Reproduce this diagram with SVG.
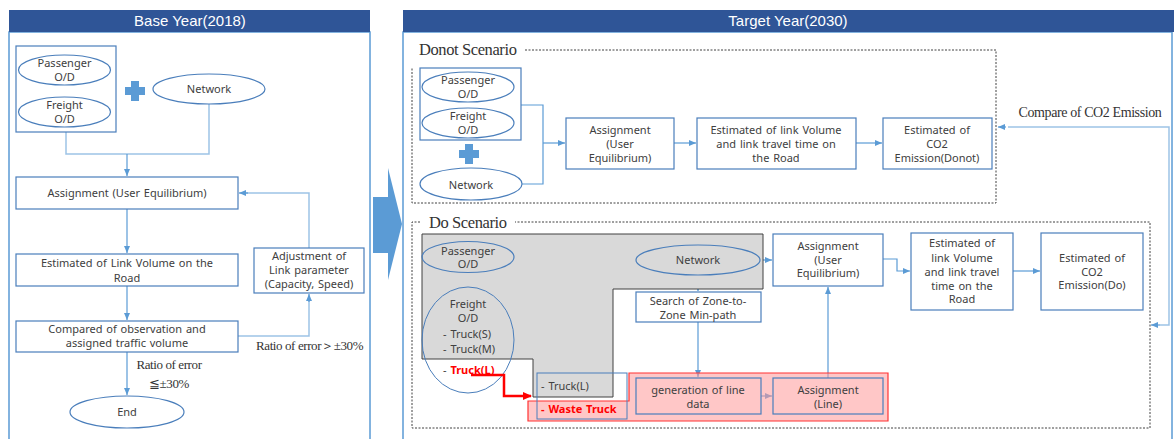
<svg xmlns="http://www.w3.org/2000/svg" width="1174" height="439" viewBox="0 0 1174 439">
<defs>
<marker id="ah" markerWidth="8" markerHeight="8" refX="7" refY="4" orient="auto" markerUnits="userSpaceOnUse"><path d="M0,1 L7,4 L0,7 Z" fill="#5b9bd5"/></marker>
<marker id="ahr" markerWidth="10" markerHeight="10" refX="8" refY="5" orient="auto" markerUnits="userSpaceOnUse"><path d="M0,1 L9,5 L0,9 Z" fill="#ff0000"/></marker>
<style>
.hdr{fill:#2f5597}
.hdrt{font-family:"Liberation Sans Narrow","Liberation Sans",Arial,sans-serif;font-size:15px;fill:#fff;text-anchor:middle}
.panel{fill:#fff;stroke:#5b9bd5;stroke-width:1.5}
.box{fill:#fff;stroke:#4a7ebb;stroke-width:1.2}
.el{fill:#fff;stroke:#4a7ebb;stroke-width:1.2}
.t{font-family:"Noto Sans","Liberation Sans",Arial,sans-serif;font-size:11px;fill:#404040;text-anchor:middle;word-spacing:1px}
.tl{font-family:"Noto Sans","Liberation Sans",Arial,sans-serif;font-size:11px;fill:#404040;word-spacing:1px}
.red{fill:#ff0000;font-weight:bold}
.ser{font-family:"Liberation Serif","Times New Roman",serif;fill:#333;letter-spacing:-0.4px}
.con{fill:none;stroke:#5b9bd5;stroke-width:1.2}
.conl{fill:none;stroke:#9dc3e6;stroke-width:1.5}
.dash{fill:none;stroke:#404040;stroke-width:1;stroke-dasharray:2,1.5}
.plus{fill:#5b9bd5}
</style>
</defs>
<rect width="1174" height="439" fill="#fff"/>

<!-- Left panel -->
<g id="base-panel">
<rect class="panel" x="9" y="32" width="361" height="410"/>
<rect class="hdr" x="9" y="10" width="361" height="22"/>
<text class="hdrt" x="190" y="26">Base Year(2018)</text>
</g>

<!-- Right panel -->
<g id="target-panel">
<rect class="panel" x="403" y="32" width="769" height="410"/>
<rect class="hdr" x="403" y="10" width="771" height="22"/>
<text class="hdrt" x="788" y="26">Target Year(2030)</text>
</g>

<!-- big arrow -->
<g id="big-arrow">
<path d="M373,197 H388 V168 L402,224 L388,280 V253 H373 Z" fill="#5b9bd5"/>
</g>

<!-- Connectors -->
<g id="connectors">
<!-- base -->
<path class="conl" d="M66,132 V154 H209 V104"/>
<path class="con" d="M127,154 V176" marker-end="url(#ah)"/>
<path class="con" d="M127,209 V253" marker-end="url(#ah)"/>
<path class="con" d="M127,286 V320" marker-end="url(#ah)"/>
<path class="conl" d="M238,336 H309 V300"/>
<path class="con" d="M309,302 V294" marker-end="url(#ah)"/>
<path class="conl" d="M309,248 V193 H246"/>
<path class="con" d="M248,193 H239" marker-end="url(#ah)"/>
<path class="con" d="M127,352 V395" marker-end="url(#ah)"/>
<!-- donot -->
<path class="con" d="M521,105 H543 V184 H522"/>
<path class="con" d="M543,143 H565" marker-end="url(#ah)"/>
<path class="con" d="M674,143 H696" marker-end="url(#ah)"/>
<path class="con" d="M856,143 H882" marker-end="url(#ah)"/>
<!-- compare -->
<path class="conl" d="M1008,127 H1169 V325 H1160"/>
<path class="con" d="M1006,127 H998" marker-end="url(#ah)"/>
<path class="con" d="M1160,325 H1151" marker-end="url(#ah)"/>
<!-- do -->
<path class="con" d="M763,260 H772" marker-end="url(#ah)"/>
<path class="con" d="M698,275 V291" marker-end="url(#ah)"/>
<path class="con" d="M698,322 V377" marker-end="url(#ah)"/>
<path class="con" d="M761,396 H772" marker-end="url(#ah)"/>
<path class="con" d="M828,378 V287" marker-end="url(#ah)"/>
<path class="con" d="M883,259 H897 V271 H910" marker-end="url(#ah)"/>
<path class="con" d="M1013,271 H1040" marker-end="url(#ah)"/>
</g>

<!-- Base year nodes -->
<g id="base-od">
<rect class="box" x="16" y="46" width="100" height="86"/>
<ellipse class="el" cx="64.5" cy="70" rx="46" ry="15"/>
<text class="t" x="64.5" y="67">Passenger</text>
<text class="t" x="64.5" y="81">O/D</text>
<ellipse class="el" cx="64.5" cy="112" rx="46" ry="15"/>
<text class="t" x="64.5" y="109">Freight</text>
<text class="t" x="64.5" y="123">O/D</text>
</g>
<g id="base-plus"><path class="plus" d="M131,81 h8 v6 h6 v8 h-6 v6 h-8 v-6 h-6 v-8 h6 Z"/></g>
<g id="base-network">
<ellipse class="el" cx="209" cy="89" rx="56" ry="15"/>
<text class="t" x="209" y="93">Network</text>
</g>
<g id="base-assignment">
<rect class="box" x="16" y="177" width="222" height="32"/>
<text class="t" x="127" y="197">Assignment  (User  Equilibrium)</text>
</g>
<g id="base-estimated">
<rect class="box" x="16" y="254" width="222" height="32"/>
<text class="t" x="127" y="267">Estimated  of  Link  Volume  on  the</text>
<text class="t" x="127" y="282">Road</text>
</g>
<g id="base-compared">
<rect class="box" x="16" y="321" width="222" height="31"/>
<text class="t" x="127" y="333">Compared  of  observation  and</text>
<text class="t" x="127" y="347">assigned  traffic  volume</text>
</g>
<g id="base-adjustment">
<rect class="box" x="254" y="248" width="110" height="45"/>
<text class="t" x="309" y="260">Adjustment  of</text>
<text class="t" x="309" y="274">Link parameter</text>
<text class="t" x="309" y="288">(Capacity,  Speed)</text>
</g>
<g id="base-labels">
<text class="ser" x="256" y="350" font-size="13">Ratio of error＞±30%</text>
<text class="ser" x="169" y="369" font-size="13" text-anchor="middle">Ratio of error</text>
<text class="ser" x="169" y="388" font-size="13" text-anchor="middle">≦±30%</text>
</g>
<g id="base-end">
<ellipse class="el" cx="127" cy="412" rx="57" ry="16"/>
<text class="t" x="127" y="416">End</text>
</g>

<!-- Donot scenario -->
<g id="donot-frame">
<path class="dash" d="M525,50 H996 V203 H412 V68"/>
<text class="ser" x="419" y="55" font-size="16.5">Donot Scenario</text>
</g>
<g id="donot-od">
<rect class="box" x="420" y="68" width="101" height="72"/>
<ellipse class="el" cx="468" cy="87" rx="46" ry="15"/>
<text class="t" x="468" y="84">Passenger</text>
<text class="t" x="468" y="98">O/D</text>
<ellipse class="el" cx="468" cy="123" rx="46" ry="15"/>
<text class="t" x="468" y="120">Freight</text>
<text class="t" x="468" y="134">O/D</text>
</g>
<g id="donot-plus"><path class="plus" d="M465,144 h8 v6 h6 v8 h-6 v6 h-8 v-6 h-6 v-8 h6 Z"/></g>
<g id="donot-network">
<ellipse class="el" cx="471" cy="184" rx="51" ry="16"/>
<text class="t" x="471" y="189">Network</text>
</g>
<g id="donot-assignment">
<rect class="box" x="566" y="118" width="108" height="51"/>
<text class="t" x="620" y="134">Assignment</text>
<text class="t" x="620" y="148">(User</text>
<text class="t" x="620" y="162">Equilibrium)</text>
</g>
<g id="donot-estimated">
<rect class="box" x="697" y="118" width="159" height="51"/>
<text class="t" x="776" y="134">Estimated  of  link  Volume</text>
<text class="t" x="776" y="148">and  link  travel  time  on</text>
<text class="t" x="776" y="162">the  Road</text>
</g>
<g id="donot-co2">
<rect class="box" x="883" y="118" width="109" height="51"/>
<text class="t" x="937" y="134">Estimated  of</text>
<text class="t" x="937" y="148">CO2</text>
<text class="t" x="937" y="162">Emission(Donot)</text>
</g>
<g id="compare-label">
<text class="ser" x="1090" y="117" font-size="14" text-anchor="middle">Compare of CO2 Emission</text>
</g>

<!-- Do scenario -->
<g id="do-frame">
<path class="dash" d="M420,222 H412 V428 H1150 V222 H515"/>
<text class="ser" x="429" y="228" font-size="16.5">Do Scenario</text>
</g>
<g id="do-gray">
<path d="M422,234 H763 V289 H613 V397 H533 V359 H422 Z" fill="#d9d9d9" stroke="#404040" stroke-width="1"/>
</g>
<g id="do-red-area">
<path d="M528,401 H629 V373 H888 V421 H528 Z" fill="#ff9999" fill-opacity="0.55" stroke="#ff3333" stroke-width="1.2"/>
</g>
<g id="do-passenger">
<ellipse cx="468" cy="257" rx="46" ry="15.5" fill="none" stroke="#4a7ebb" stroke-width="1.2"/>
<text class="t" x="468" y="255">Passenger</text>
<text class="t" x="468" y="268">O/D</text>
</g>
<g id="do-freight">
<ellipse cx="468" cy="340" rx="46" ry="53" fill="none" stroke="#4a7ebb" stroke-width="1"/>
<text class="t" x="468" y="308">Freight</text>
<text class="t" x="468" y="322">O/D</text>
<text class="tl" x="443" y="338">- Truck(S)</text>
<text class="tl" x="443" y="353">- Truck(M)</text>
<text class="tl" x="443" y="374">- <tspan class="red">Truck(L)</tspan></text>
</g>
<g id="do-network">
<ellipse cx="698" cy="260" rx="62" ry="15" fill="none" stroke="#4a7ebb" stroke-width="1.2"/>
<text class="t" x="698" y="264">Network</text>
</g>
<g id="do-search">
<rect class="box" x="636" y="292" width="125" height="30"/>
<text class="t" x="698" y="305">Search  of  Zone-to-</text>
<text class="t" x="698" y="319">Zone  Min-path</text>
</g>
<g id="do-truck-box">
<rect x="537" y="373" width="90" height="46" fill="none" stroke="#4a7ebb" stroke-width="1"/>
<text class="tl" x="541" y="390">- Truck(L)</text>
<text class="tl red" x="541" y="413">- Waste  Truck</text>
</g>
<g id="do-generation">
<rect x="636" y="378" width="125" height="36" fill="#ffc7c7" stroke="#4a7ebb" stroke-width="1.2"/>
<text class="t" x="698" y="394">generation  of  line</text>
<text class="t" x="698" y="408">data</text>
</g>
<g id="do-assign-line">
<rect x="773" y="378" width="110" height="36" fill="#ffc7c7" stroke="#4a7ebb" stroke-width="1.2"/>
<text class="t" x="828" y="394">Assignment</text>
<text class="t" x="828" y="408">(Line)</text>
</g>
<g id="do-assign-ue">
<rect class="box" x="773" y="234" width="110" height="52"/>
<text class="t" x="828" y="250">Assignment</text>
<text class="t" x="828" y="264">(User</text>
<text class="t" x="828" y="277">Equilibrium)</text>
</g>
<g id="do-estimated">
<rect class="box" x="911" y="233" width="102" height="77"/>
<text class="t" x="962" y="247">Estimated  of</text>
<text class="t" x="962" y="262">link  Volume</text>
<text class="t" x="962" y="276">and  link  travel</text>
<text class="t" x="962" y="290">time  on  the</text>
<text class="t" x="962" y="303">Road</text>
</g>
<g id="do-co2">
<rect class="box" x="1041" y="233" width="102" height="77"/>
<text class="t" x="1092" y="262">Estimated  of</text>
<text class="t" x="1092" y="276">CO2</text>
<text class="t" x="1092" y="289">Emission(Do)</text>
</g>
<g id="red-arrow">
<path d="M471,375 H504 V396 H531" fill="none" stroke="#ff0000" stroke-width="2.5" marker-end="url(#ahr)"/>
</g>
</svg>
